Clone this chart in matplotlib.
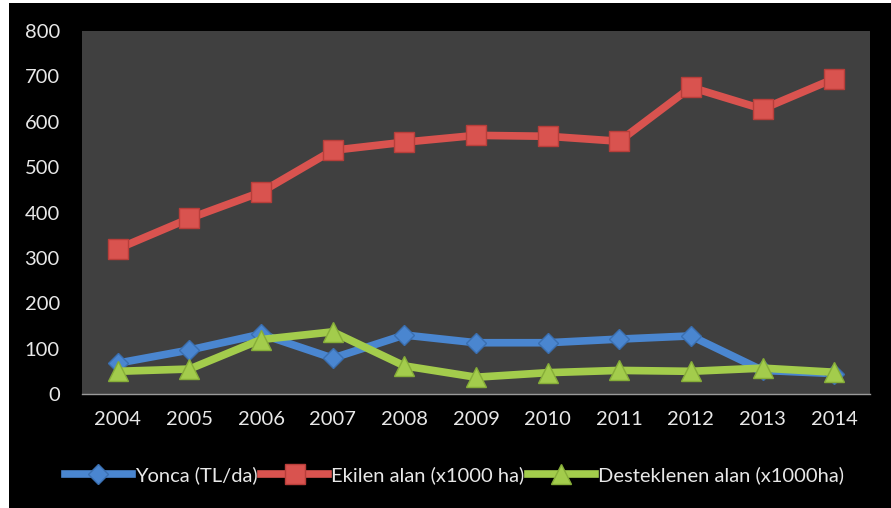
import matplotlib.pyplot as plt
from matplotlib.lines import Line2D

# === Data ===
years = ['2004', '2005', '2006', '2007', '2008', '2009', '2010', '2011', '2012', '2013', '2014']
yonca = [68, 97, 132, 79, 130, 113, 113, 121, 128, 52, 45]
ekilen = [320, 387, 445, 537, 555, 570, 568, 557, 676, 628, 695]
desteklenen = [50, 55, 120, 137, 62, 37, 47, 52, 50, 57, 48]

labels = ['Yonca (TL/da)', 'Ekilen alan (x1000 ha)', 'Desteklenen alan (x1000ha)']
colors = ['#4a86d0', '#d9534f', '#a3cc4c']
edges = ['#3a6fb0', '#b83e3a', '#86ad38']
markers = ['D', 's', '^']
msizes = [10, 14, 14]

plt.rcParams['font.family'] = ['Lato', 'DejaVu Sans']

# === Set up Chart ===
fig = plt.figure(figsize=(8.91, 5.08), dpi=100, facecolor='black')
# white strip on left and top like the screenshot
fig.patches.append(plt.Rectangle((0, 0), 0.010, 1, transform=fig.transFigure,
                                 facecolor='white', zorder=0))
fig.patches.append(plt.Rectangle((0, 0.994), 1, 0.006, transform=fig.transFigure,
                                 facecolor='white', zorder=0))

ax = fig.add_axes([82 / 891, 1 - 394 / 508, (870 - 82) / 891, (394 - 31) / 508])
ax.set_facecolor('#404040')

x = range(len(years))
series = [yonca, ekilen, desteklenen]
for vals, c, ec, m, ms in zip(series, colors, edges, markers, msizes):
    ax.plot(x, vals, color=c, linewidth=5.5, marker=m, markersize=ms,
            markerfacecolor=c, markeredgecolor=ec, markeredgewidth=1,
            solid_joinstyle='round', solid_capstyle='round')

# === Labels and Styling ===
ax.set_xlim(-0.5, len(years) - 0.5)
ax.set_ylim(0, 800)
ax.set_yticks(range(0, 801, 100))
ax.set_xticks(list(x))
ax.set_xticklabels(years)
ax.tick_params(colors='#e8e8e8', labelsize=14.5, length=0)
ax.tick_params(axis='y', pad=16)
ax.tick_params(axis='x', pad=12)
for side in ['top', 'right', 'left']:
    ax.spines[side].set_visible(False)
ax.spines['bottom'].set_color('#9a9a9a')
ax.spines['bottom'].set_linewidth(1)

handles = [Line2D([0], [0], color=c, linewidth=5.5, marker=m, markersize=ms,
                  markerfacecolor=c, markeredgecolor=ec)
           for c, ec, m, ms in zip(colors, edges, markers, msizes)]
fig.legend(handles, labels, loc='center', bbox_to_anchor=(0.51, 1 - 475 / 508),
           ncol=3, frameon=False, fontsize=14.5, labelcolor='#e8e8e8',
           handlelength=3.3, handletextpad=0.15, columnspacing=0.2)

fig.savefig('out.png', dpi=100, facecolor=fig.get_facecolor())
